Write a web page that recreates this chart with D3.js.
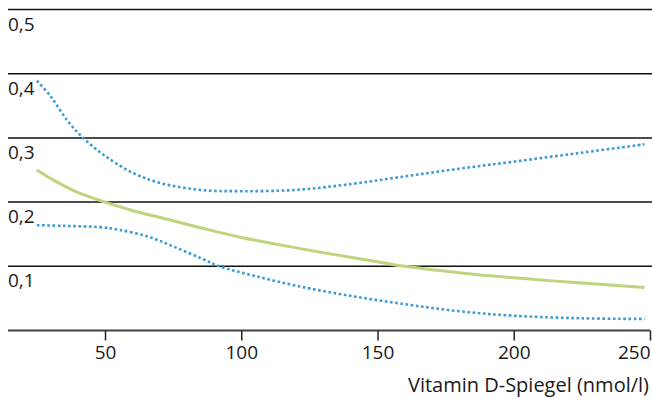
<!DOCTYPE html>
<html>
<head>
<meta charset="utf-8">
<script src="https://cdn.jsdelivr.net/npm/d3@7"></script>
<style>
  body { margin: 0; background: #fff; }
  text { font-family: "Open Sans", "Noto Sans", sans-serif; fill: #1a1a1a; }
</style>
</head>
<body>
<div class="canvas"></div>
<script>
// data
const yTicks = [0.1, 0.2, 0.3, 0.4, 0.5];
const xTicks = [50, 100, 150, 200, 250];
const xTitle = 'Vitamin D-Spiegel (nmol/l)';

const meanX = [25, 30, 40, 50, 60, 75, 85, 100, 125, 150, 160, 180, 200, 225, 248];
const meanY = [0.25, 0.237, 0.215, 0.2, 0.187, 0.171, 0.16, 0.145, 0.125, 0.107, 0.1, 0.09, 0.082, 0.074, 0.067];

const upperX = [25, 30, 36, 42, 50, 60, 70, 85, 100, 120, 140, 160, 180, 200, 225, 248];
const upperY = [0.389, 0.365, 0.328, 0.3, 0.272, 0.246, 0.23, 0.219, 0.217, 0.219, 0.228, 0.24, 0.252, 0.263, 0.277, 0.29];

const lowerX = [25, 35, 48, 55, 66, 75, 85, 92, 105, 121, 140, 160, 180, 200, 225, 248];
const lowerY = [0.164, 0.163, 0.161, 0.157, 0.146, 0.131, 0.113, 0.1, 0.085, 0.069, 0.054, 0.041, 0.03, 0.023, 0.019, 0.018];

const width = 652, height = 399;
const font = '"Open Sans", "Noto Sans", sans-serif';

const svg = d3.select('.canvas')
    .append('svg')
    .attr('width', width)
    .attr('height', height)

// scales
const x = d3.scaleLinear().domain([50, 250]).range([105, 650]);
const y = d3.scaleLinear().domain([0, 0.5]).range([330.5, 9.5]);
const left = 8;

// gridlines with labels underneath
const grid = svg.append('g').attr('class', 'grid');
grid.selectAll('line')
    .data(yTicks)
    .enter().append('line')
    .attr('x1', left)
    .attr('x2', width)
    .attr('y1', d => y(d))
    .attr('y2', d => y(d))
    .attr('stroke', '#111')
    .attr('stroke-width', 1.5);
grid.selectAll('text')
    .data(yTicks)
    .enter().append('text')
    .attr('x', left)
    .attr('y', d => y(d) + 21)
    .attr('font-size', 19)
    .text(d => d3.format('.1f')(d).replace('.', ','));

// x axis
const xAxisGroup = svg.append('g')
    .attr('class', 'x-axis')
    .attr('transform', `translate(0, ${y(0)})`)
const xAxis = d3.axisBottom(x)
    .tickValues(xTicks)
    .tickSize(10)
    .tickSizeOuter(0)
    .tickPadding(5)
    .tickFormat(d => d);
xAxisGroup.call(xAxis);
xAxisGroup.select('.domain')
    .attr('d', `M${left},0H${x(250)}`)
    .attr('stroke', '#444')
    .attr('stroke-width', 2);
xAxisGroup.selectAll('.tick line').attr('stroke', '#222').attr('stroke-width', 1.5);
xAxisGroup.selectAll('.tick text')
    .attr('font-size', 19)
    .attr('font-family', font)
    .attr('fill', '#1a1a1a')
    .attr('text-anchor', d => d === 250 ? 'end' : 'middle');

svg.append('text')
    .attr('x', 649)
    .attr('y', 392)
    .attr('text-anchor', 'end')
    .attr('font-size', 20)
    .text(xTitle);

// lines
const line = d3.line()
    .x(d => x(d[0]))
    .y(d => y(d[1]))
    .curve(d3.curveCatmullRom.alpha(0.5));

const zip = (a, b) => a.map((v, i) => [v, b[i]]);

svg.append('path')
    .datum(zip(meanX, meanY))
    .attr('fill', 'none')
    .attr('stroke', '#bed47f')
    .attr('stroke-width', 3)
    .attr('d', line);

[zip(upperX, upperY), zip(lowerX, lowerY)].forEach(pts => {
    svg.append('path')
        .datum(pts)
        .attr('fill', 'none')
        .attr('stroke', '#3a9bd8')
        .attr('stroke-width', 2.6)
        .attr('stroke-dasharray', '2.6 2.6')
        .attr('d', line);
});
</script>
</body>
</html>
